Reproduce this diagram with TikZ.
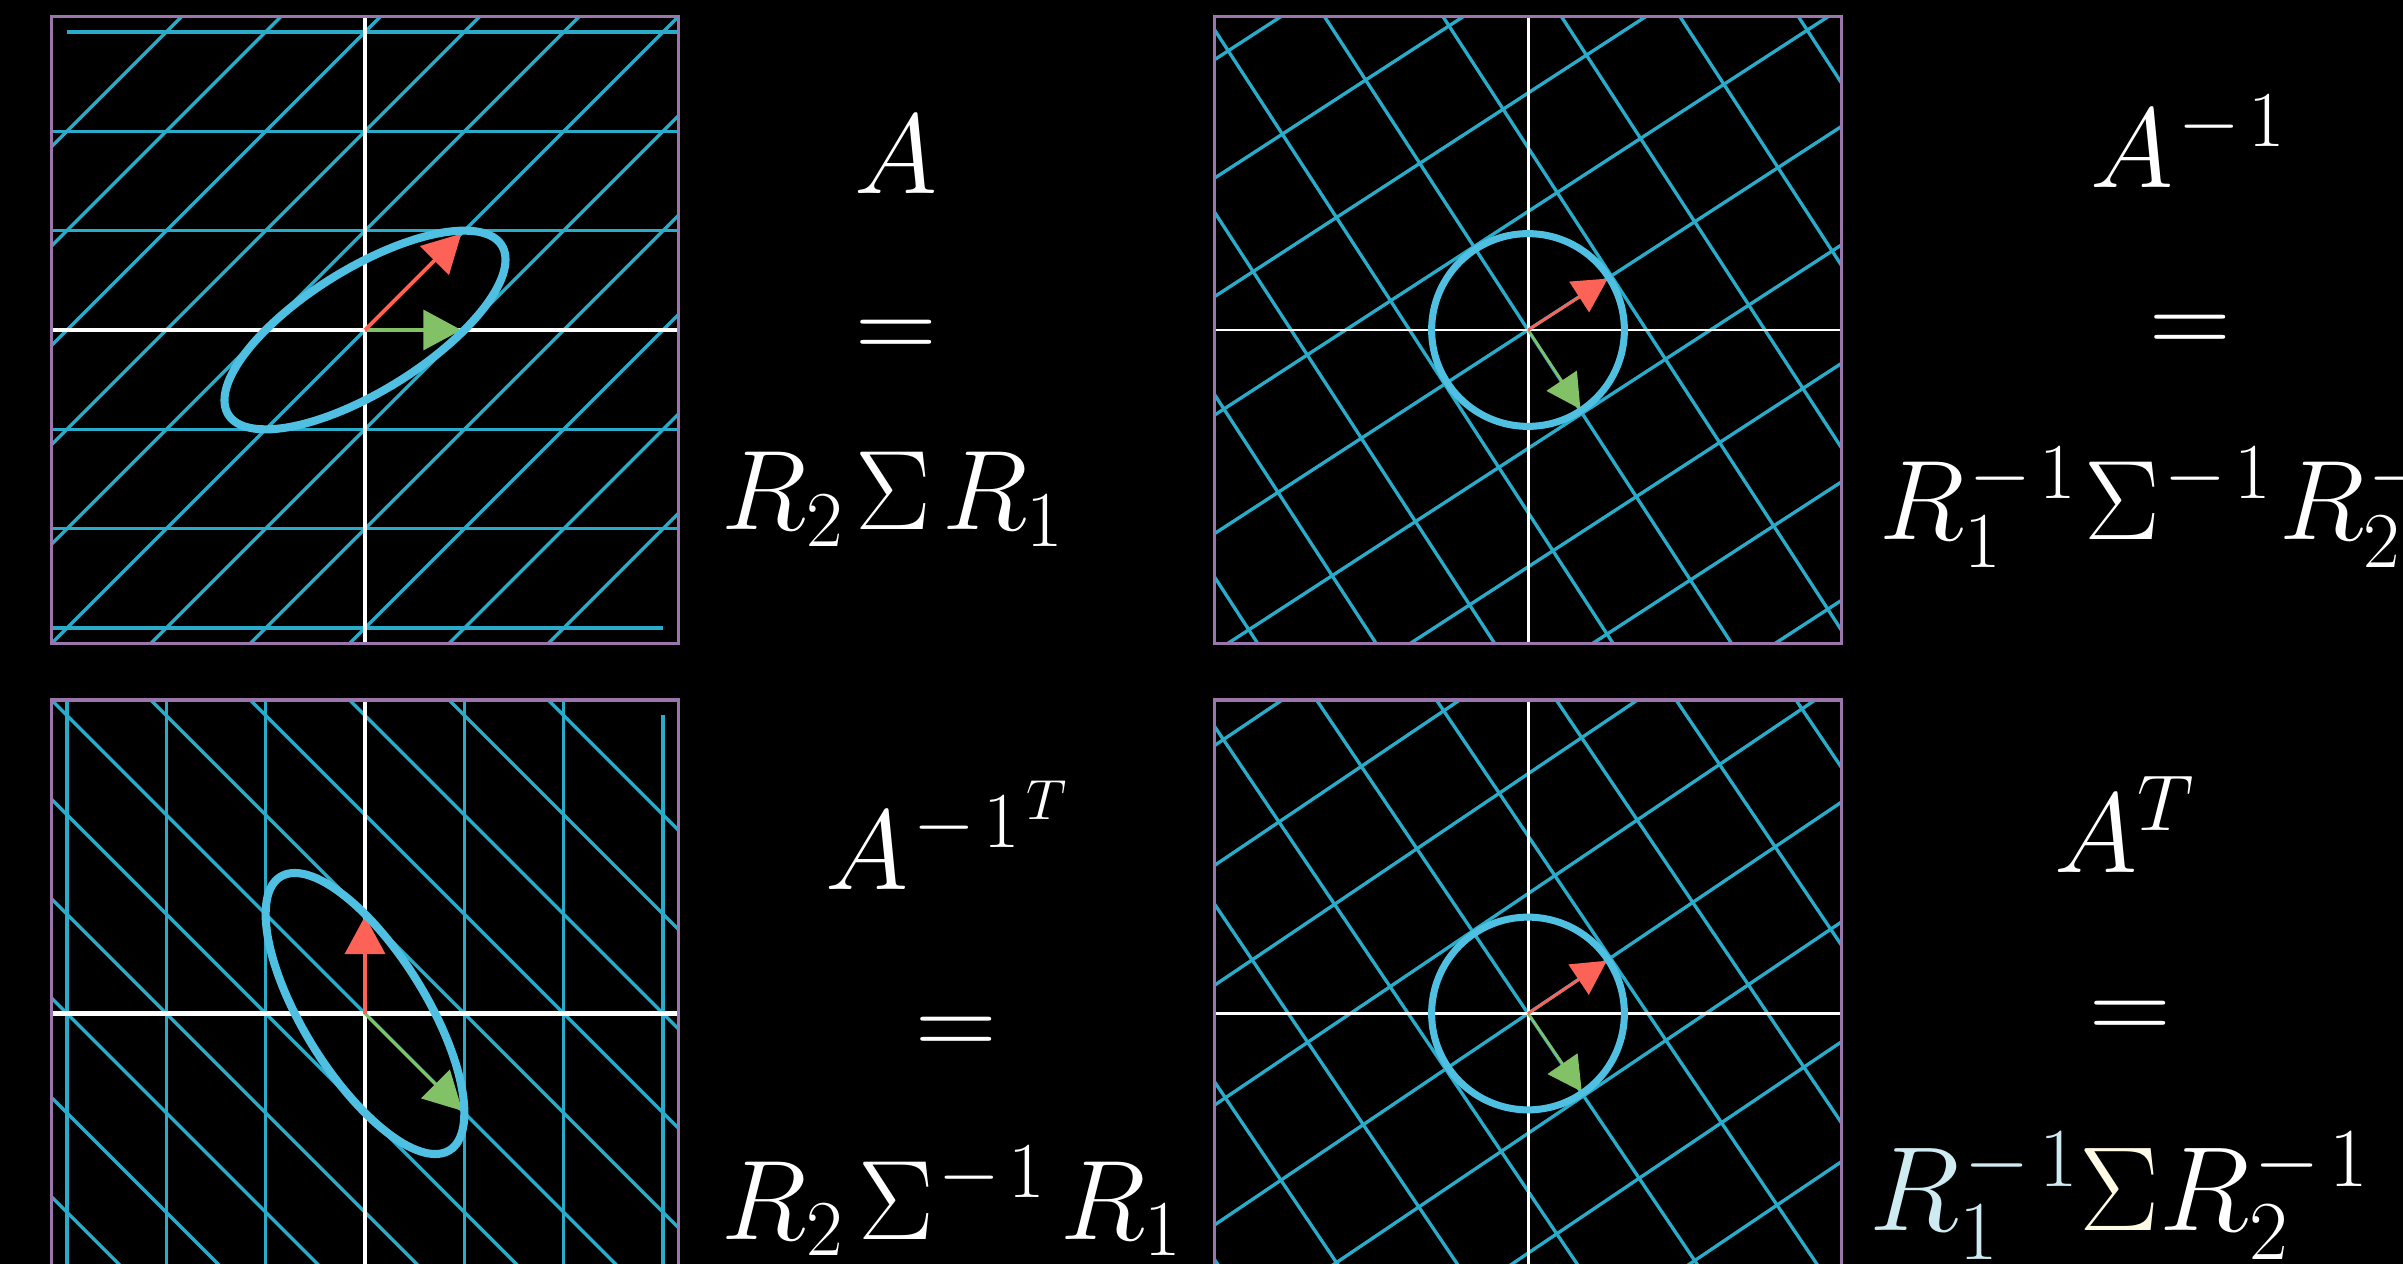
\RequirePackage{fix-cm}
\documentclass[tikz,border=0pt]{standalone}
\usetikzlibrary{arrows.meta}
\definecolor{gridblue}{RGB}{41,171,202}
\definecolor{ellblue}{RGB}{80,192,226}
\definecolor{framepurple}{RGB}{155,118,172}
\definecolor{vred}{RGB}{252,98,85}
\definecolor{vgreen}{RGB}{131,193,103}
\definecolor{fadecyan}{RGB}{205,235,240}
\definecolor{fadeyellow}{RGB}{255,250,228}
\tikzset{
  gridline/.style={draw=gridblue, line width=0.95pt},
  axisline/.style={draw=white, line width=0.85pt},
  frameline/.style={draw=framepurple, line width=1.0pt},
  shapeline/.style={draw=ellblue, line width=1.9pt},
  redvec/.style={draw=vred, line width=0.8pt, -{Triangle[length=3.4mm,width=3.6mm]}},
  greenvec/.style={draw=vgreen, line width=0.7pt, -{Triangle[length=3.4mm,width=3.6mm]}},
  bigredvec/.style={draw=vred, line width=1.1pt, -{Triangle[length=3.8mm,width=4.0mm]}},
  biggreenvec/.style={draw=vgreen, line width=0.9pt, -{Triangle[length=3.8mm,width=4.0mm]}},
  eq/.style={text=white, inner sep=0pt, font=\fontsize{32.2}{38}\selectfont},
  eqbig/.style={text=white, inner sep=0pt, font=\fontsize{34.1}{40}\selectfont},
  panelunits/.style={x=0.993cm, y=0.993cm}
}
\newcommand\gridlines{%
  \foreach \k in {-5,...,5} {
    \draw[gridline] (\k,-6) -- (\k,6);
    \draw[gridline] (-6,\k) -- (6,\k);
  }%
}
\newcommand\axeslines[1]{%
  \draw[axisline, line width=#1] (-3.3,0) -- (3.3,0);
  \draw[axisline, line width=#1] (0,-3.3) -- (0,3.3);
}
% superscript -1 with the wider spacing of the reference
\newcommand\inv{{\mkern1mu-\mkern2mu1}}
\begin{document}
\begin{tikzpicture}[x=0.01cm, y=0.01cm]
\useasboundingbox (0,0) rectangle (2403,-1264);
\fill[black] (0,0) rectangle (2403,-1264);
\clip (0,0) rectangle (2403,-1264);

% ---------- top-left panel: A ----------
\begin{scope}[shift={(365,-330)}, panelunits]
  \begin{scope}
    \clip (-3.157,-3.157) rectangle (3.157,3.157);
    \begin{scope}[cm={1,0,1,1,(0,0)}]
      \gridlines
    \end{scope}
    \axeslines{1.15pt}
    \draw[biggreenvec] (0,0) -- (0.97,0);
    \draw[bigredvec] (0,0) -- (0.97,0.97);
    \begin{scope}[cm={1,0,1,1,(0,0)}]
      \draw[shapeline, line width=2.3pt] (0,0) circle (1);
    \end{scope}
  \end{scope}
  \draw[frameline] (-3.157,-3.157) rectangle (3.157,3.157);
\end{scope}

% ---------- top-right panel: A^{-1} ----------
\begin{scope}[shift={(1528,-330)}, panelunits]
  \begin{scope}
    \clip (-3.157,-3.157) rectangle (3.157,3.157);
    \begin{scope}[rotate=-57]
      \gridlines
    \end{scope}
    \axeslines{0.85pt}
    \draw[greenvec] (0,0) -- (-56.5:0.955);
    \draw[redvec] (0,0) -- (32.8:0.955);
    \draw[shapeline, line width=2.0pt] (0,0) circle (0.97);
  \end{scope}
  \draw[frameline] (-3.157,-3.157) rectangle (3.157,3.157);
\end{scope}

% ---------- bottom-left panel: A^{-1 T} ----------
\begin{scope}[shift={(365,-1013.5)}, panelunits]
  \begin{scope}
    \clip (-3.157,-3.157) rectangle (3.157,3.157);
    \begin{scope}[cm={1,-1,0,1,(0,0)}]
      \gridlines
    \end{scope}
    \axeslines{1.15pt}
    \draw[biggreenvec] (0,0) -- (0.98,-0.98);
    \draw[bigredvec] (0,0) -- (0,0.98);
    \begin{scope}[cm={1,-1,0,1,(0,0)}]
      \draw[shapeline, line width=2.3pt] (0,0) circle (1);
    \end{scope}
  \end{scope}
  \draw[frameline] (-3.157,-3.157) rectangle (3.157,3.157);
\end{scope}

% ---------- bottom-right panel: A^T ----------
\begin{scope}[shift={(1528,-1013.5)}, panelunits]
  \begin{scope}
    \clip (-3.157,-3.157) rectangle (3.157,3.157);
    \begin{scope}[rotate=-56]
      \gridlines
    \end{scope}
    \axeslines{0.85pt}
    \draw[greenvec] (0,0) -- (-55.5:0.955);
    \draw[redvec] (0,0) -- (33.8:0.955);
    \draw[shapeline, line width=2.0pt] (0,0) circle (0.97);
  \end{scope}
  \draw[frameline] (-3.157,-3.157) rectangle (3.157,3.157);
\end{scope}

% ---------- formulas ----------
\node[eq, anchor=base] (tlA) at (896.5,-194) {$A$};
\node[eq, anchor=base] (tlEq) at (896,-361) {$=$};
\node[eq, anchor=base west] (tlF) at (721,-530) {$R_2\mkern1.8mu\Sigma\mkern1.8mu R_1$};

\node[eq, anchor=base west] (trA) at (2090,-187.5) {$A^\inv$};
\node[eq, anchor=base] (trEq) at (2190,-356) {$=$};
\node[eq, anchor=base west] (trF) at (1879,-540) {$R_1^\inv\mkern1mu\Sigma^\inv\mkern1mu R_2^\inv$};

\node[eq, anchor=base west] (blA) at (825,-889) {$A^{\mkern1mu-\mkern2mu1^{\mkern2mu T}}$};
\node[eq, anchor=base] (blEq) at (956,-1057) {$=$};
\node[eq, anchor=base west] (blF) at (721,-1239) {$R_2\mkern2.2mu\Sigma^\inv\mkern2.2mu R_1$};

\node[eq, anchor=base west] (brA) at (2054,-872) {$A^T$};
\node[eq, anchor=base] (brEq) at (2130,-1041) {$=$};
\node[eqbig, anchor=base west] (brF) at (1869,-1230) {${\color{fadecyan}R_1^\inv}{\color{fadeyellow}\Sigma}R_2^\inv$};
\end{tikzpicture}
\end{document}
